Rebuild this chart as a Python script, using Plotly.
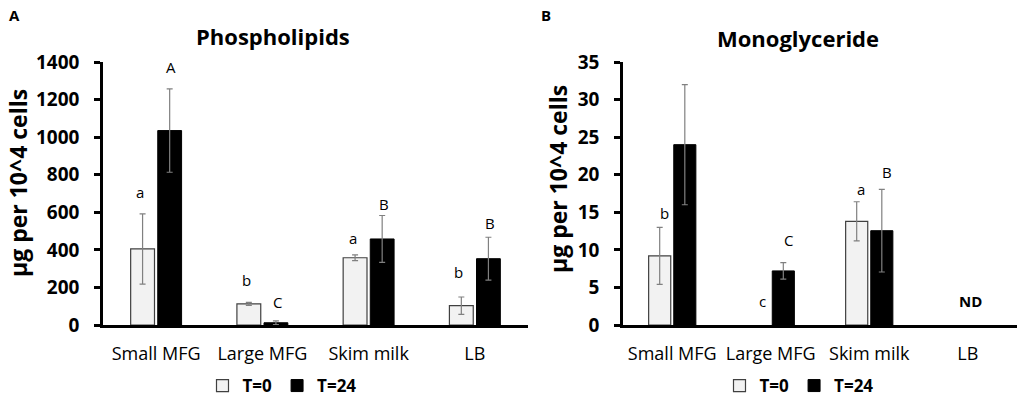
import plotly.graph_objects as go

# ---------------- data ----------------
categories = ["Small MFG", "Large MFG", "Skim milk", "LB"]

# Panel A: Phospholipids (µg per 10^4 cells)
pl_t0 = [405, 112, 358, 103]
pl_t0_err = [187, 8, 15, 46]
pl_t24 = [1035, 12, 458, 353]
pl_t24_err = [222, 10, 125, 114]
pl_letters_t0 = ["a", "b", "a", "b"]
pl_letters_t24 = ["A", "C", "B", "B"]
pl_letter_y_t0 = [708, 240, 463, 282]
pl_letter_y_t24 = [1373, 122, 644, 543]

# Panel B: Monoglyceride (µg per 10^4 cells); None = not detected
mg_t0 = [9.2, None, 13.8, None]
mg_t0_err = [3.8, None, 2.6, None]
mg_t24 = [24.0, 7.2, 12.55, None]
mg_t24_err = [8.0, 1.1, 5.5, None]
mg_letters_t0 = ["b", "c", "a", ""]
mg_letters_t24 = ["A", "C", "B", ""]
mg_letter_y_t0 = [14.9, 3.2, 18.1, None]
mg_letter_y_t24 = [35.3, 11.3, 20.3, None]
mg_nd_label = "ND"
mg_nd_category = "LB"
mg_nd_y = 3.2

series_names = ["T=0", "T=24"]

# ---------------- style ----------------
FONT = "Open Sans"
LIGHT = "#f2f2f2"
DARK = "#000000"
ERR = "#808080"

W, H = 1021, 396

def px_x(p):
    return p / W

def px_y(p):
    return 1 - p / H

fig = go.Figure()

def add_pair(t0, t0e, t24, t24e, xa, ya, legend, show):
    fig.add_trace(go.Bar(
        x=categories, y=t0, name=series_names[0],
        marker=dict(color=LIGHT, line=dict(color="#404040", width=1.2)),
        error_y=dict(type="data", array=t0e, visible=True, color=ERR, thickness=1.2, width=3),
        xaxis=xa, yaxis=ya, legend=legend, showlegend=show))
    fig.add_trace(go.Bar(
        x=categories, y=t24, name=series_names[1],
        marker=dict(color=DARK, line=dict(color="#000000", width=1)),
        error_y=dict(type="data", array=t24e, visible=True, color=ERR, thickness=1.2, width=3),
        xaxis=xa, yaxis=ya, legend=legend, showlegend=show))

add_pair(pl_t0, pl_t0_err, pl_t24, pl_t24_err, "x", "y", "legend", True)
add_pair(mg_t0, mg_t0_err, mg_t24, mg_t24_err, "x2", "y2", "legend2", True)

annotations = []

def letters(cats, labs, ys, xref, yref, shift):
    for c, l, y in zip(cats, labs, ys):
        if l and y is not None:
            annotations.append(dict(x=c, y=y, xref=xref, yref=yref, text=l,
                                    showarrow=False, xshift=shift,
                                    font=dict(family=FONT, size=15, color="#000")))

letters(categories, pl_letters_t0, pl_letter_y_t0, "x", "y", -16)
letters(categories, pl_letters_t24, pl_letter_y_t24, "x", "y", 15)
letters(categories, mg_letters_t0, mg_letter_y_t0, "x2", "y2", -8)
letters(categories, mg_letters_t24, mg_letter_y_t24, "x2", "y2", 18)
annotations.append(dict(x=mg_nd_category, y=mg_nd_y, xref="x2", yref="y2", text=mg_nd_label,
                        showarrow=False, xshift=3,
                        font=dict(family=FONT, size=15, color="#000", weight="bold")))

# titles, panel letters, y titles
def txt(x, y, t, size, bold=True, angle=0):
    annotations.append(dict(x=px_x(x), y=px_y(y), xref="paper", yref="paper", text=t,
                            showarrow=False, textangle=angle, xanchor="center", yanchor="middle",
                            font=dict(family=FONT, size=size, color="#000",
                                      weight="bold" if bold else "normal")))

txt(273, 36, "Phospholipids", 22)
txt(798, 38, "Monoglyceride", 22)
txt(14, 15, "A", 15)
txt(546, 15, "B", 15)
txt(18, 183, "µg per 10^4 cells", 23, angle=-90)
txt(558, 179, "µg per 10^4 cells", 23, angle=-90)

yax_common = dict(showline=True, linecolor="#000", linewidth=2.5, ticks="outside",
                  ticklen=6, tickwidth=2.5, tickcolor="#000", showgrid=False, zeroline=False,
                  tickfont=dict(family=FONT, size=19, color="#000", weight="bold"),
                  ticklabelstandoff=11, automargin=False)
xax_common = dict(showline=True, linecolor="#000", linewidth=2.5, ticks="", showgrid=False,
                  tickfont=dict(family=FONT, size=18, color="#000"), ticklabelstandoff=11,
                  automargin=False)

ydom = [px_y(325), px_y(62)]

legend_common = dict(orientation="h", y=px_y(386), xanchor="center", yanchor="middle",
                     font=dict(family=FONT, size=17, color="#000", weight="bold"),
                     bgcolor="rgba(0,0,0,0)")

fig.update_layout(
    width=W, height=H,
    margin=dict(l=0, r=0, t=0, b=0, autoexpand=False),
    paper_bgcolor="white", plot_bgcolor="white",
    barmode="group", bargap=0.49, bargroupgap=0.12,
    xaxis=dict(domain=[px_x(103), px_x(528)], anchor="y", **xax_common),
    yaxis=dict(domain=ydom, anchor="x", range=[0, 1400], dtick=200, **yax_common),
    xaxis2=dict(domain=[px_x(623), px_x(1017)], anchor="y2", **xax_common),
    yaxis2=dict(domain=ydom, anchor="x2", range=[0, 35], dtick=5, **yax_common),
    legend=dict(x=px_x(282), **legend_common),
    legend2=dict(x=px_x(799), **legend_common),
    annotations=annotations,
    showlegend=True,
)

fig.write_html("out.html", config={"displayModeBar": False},
               post_script="document.body.style.margin='0';document.body.style.overflow='hidden';")
